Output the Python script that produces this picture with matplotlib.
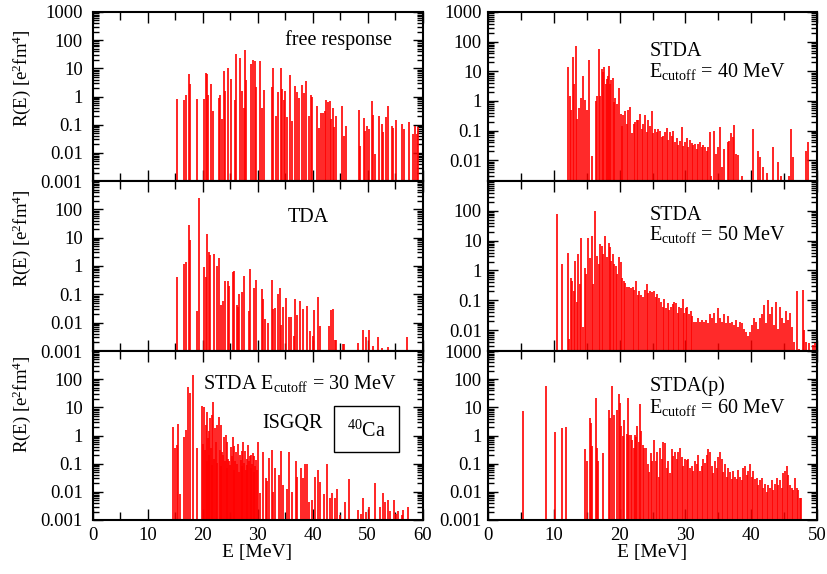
import matplotlib
matplotlib.use('Agg')
import numpy as np
import matplotlib.pyplot as plt
from matplotlib.ticker import FixedLocator, LogLocator, MultipleLocator, NullFormatter, FuncFormatter
from matplotlib.patches import Rectangle

# ---- strength functions R(E) [e^2 fm^4] vs E [MeV] ----

free_E = [15.31, 16.7, 17.0, 17.49, 17.79, 19.06, 20.34, 20.58, 20.88, 21.07,
          21.49, 21.97, 22.94, 23.19, 23.55, 23.91, 24.16, 24.58, 25.19, 25.91,
          26.1, 26.82, 27.13, 27.49, 27.67, 27.97, 28.88, 29.13, 29.49, 29.73,
          30.46, 30.82, 31.19, 32.58, 32.76, 33.31, 33.79, 34.22, 34.46, 34.76,
          35.07, 35.43, 35.91, 36.28, 36.88, 37.13, 37.55, 38.16, 38.4, 38.82,
          39.43, 39.73, 39.91, 40.88, 41.25, 41.49, 41.97, 42.28, 42.46, 42.82,
          43.13, 43.43, 43.67, 43.97, 44.28, 45.43, 45.73, 46.1, 48.4, 48.64,
          49.37, 49.61, 49.97, 50.34, 50.76, 51.07, 51.37, 52.03, 52.64, 52.88,
          53.37, 53.67, 54.4, 54.7, 55.19, 56.22, 56.58, 57.61, 58.34, 58.7,
          58.94, 59.25]
free_R = [0.8, 0.75, 1.1, 6.1, 2.8, 0.8, 0.8, 7, 6.5, 1.1,
          2.8, 0.3, 0.85, 1.15, 0.16, 7.8, 1.6, 10.5, 4.3, 0.75,
          31, 24, 1.6, 0.4, 44, 3.8, 14, 20, 18, 2.2,
          18, 0.4, 1.7, 2.2, 10, 0.2, 1.5, 10, 1.8, 0.75,
          1.6, 0.18, 5.6, 0.14, 2.4, 1.4, 0.85, 2.6, 1.3, 3.6,
          0.2, 1.1, 0.95, 0.45, 0.075, 0.27, 0.27, 0.3, 0.75, 0.65,
          0.7, 0.16, 0.4, 0.08, 0.2, 0.46, 0.04, 0.09, 0.33, 0.017,
          0.17, 0.06, 0.09, 0.07, 0.7, 0.22, 0.009, 0.21, 0.11, 0.055,
          0.18, 0.46, 0.09, 0.075, 0.15, 0.11, 0.07, 0.12, 0.045, 0.09,
          0.045, 0.08]

tda_E = [15.31, 16.64, 16.94, 17.49, 17.73, 18.94, 19.31, 20.28, 20.64, 20.82,
         21.13, 21.43, 22.1, 22.64, 22.94, 23.31, 23.67, 24.1, 24.7, 24.88,
         25.49, 25.79, 26.22, 26.46, 26.7, 27.13, 27.49, 28.4, 28.64, 29.43,
         29.73, 30.76, 31.0, 31.37, 31.97, 32.58, 32.88, 33.19, 33.67, 34.04,
         34.34, 34.7, 35.13, 35.67, 36.03, 36.64, 36.82, 37.25, 37.73, 38.22,
         38.94, 39.55, 40.04, 40.34, 40.94, 41.37, 43.07, 43.43, 43.79, 44.1,
         44.28, 45.61, 45.79, 48.22, 49.13, 49.73, 50.34, 50.94, 51.97, 52.58,
         53.67, 57.25]
tda_R = [0.42, 1.15, 1.4, 28, 8.3, 0.026, 245, 0.9, 0.4, 14,
         3.2, 2.5, 2.7, 1.0, 1.9, 0.042, 0.058, 0.3, 0.3, 0.2,
         0.63, 0.68, 0.042, 0.036, 0.1, 0.12, 0.44, 0.025, 0.8, 0.17,
         0.33, 0.16, 0.066, 0.014, 0.01, 0.32, 0.03, 0.032, 0.1, 0.17,
         0.008, 0.035, 0.075, 0.016, 0.016, 0.0035, 0.07, 0.019, 0.058, 0.03,
         0.04, 0.005, 0.0035, 0.029, 0.08, 0.0075, 0.0075, 0.029, 0.03, 0.0025,
         0.0025, 0.0018, 0.0018, 0.0019, 0.0056, 0.003, 0.0056, 0.0015, 0.003, 0.0013,
         0.0014, 0.003]

stda30_E = [14.7, 15.0, 15.31, 15.61, 15.91, 16.64, 17.0, 17.43, 17.73, 18.22,
            19.0, 19.97, 20.34, 20.64, 20.88, 21.13, 21.37, 21.67, 21.97, 22.28,
            22.58, 22.94, 23.31, 23.61, 23.91, 24.22, 24.52, 24.88, 25.13, 25.49,
            25.79, 26.1, 26.46, 26.82, 27.13, 27.37, 27.73, 28.04, 28.28, 28.64,
            28.88, 29.13, 29.43, 29.73, 30.04, 30.46, 31.07, 31.49, 31.79, 32.1,
            32.58, 32.88, 33.25, 33.85, 34.28, 34.7, 35.31, 35.79, 36.22, 37.0,
            37.25, 37.85, 38.22, 38.7, 39.07, 39.43, 39.97, 40.46, 41.07, 41.37,
            42.16, 42.7, 43.13, 43.55, 44.04, 44.4, 45.0, 45.91, 46.58, 48.22,
            48.76, 49.25, 49.73, 50.34, 51.43, 52.28, 52.76, 53.19, 53.67, 54.1,
            54.82, 55.19, 55.61, 56.22, 56.52, 57.43,
            20.1, 20.5, 20.76, 21.0, 21.25, 21.5, 21.8, 22.1, 22.4, 22.7,
            23.1, 23.45, 23.75, 24.05, 24.37, 24.7, 25.0, 25.3, 25.65, 25.95,
            26.3, 26.65, 26.98, 27.25, 27.55, 27.9, 28.15, 28.45, 28.75, 29.0,
            29.28, 29.58, 29.88]
stda30_R = [1.95, 0.37, 0.46, 2.6, 0.0085, 0.9, 1.6, 54, 32, 140,
            0.35, 11, 10, 2.4, 7, 1.4, 4.3, 5.3, 15, 1.8,
            2.4, 4.6, 2.4, 0.27, 0.9, 1.05, 0.6, 0.12, 0.4, 0.9,
            0.44, 0.27, 0.48, 0.2, 0.28, 0.6, 0.28, 0.15, 0.46, 0.19,
            0.2, 0.24, 0.18, 0.14, 0.6, 0.009, 0.27, 0.03, 0.024, 0.16,
            0.3, 0.01, 0.07, 0.04, 0.28, 0.017, 0.013, 0.27, 0.01, 0.12,
            0.035, 0.07, 0.03, 0.1, 0.1, 0.0045, 0.005, 0.033, 0.06, 0.023,
            0.0085, 0.1, 0.006, 0.009, 0.006, 0.013, 0.0015, 0.0045, 0.028, 0.0023,
            0.0017, 0.006, 0.0019, 0.003, 0.02, 0.003, 0.009, 0.0045, 0.005, 0.0021,
            0.0051, 0.0017, 0.0021, 0.0015, 0.0023, 0.003,
            0.5, 0.3, 0.12, 0.8, 0.2, 0.35, 0.09, 0.15, 0.6, 0.11,
            0.3, 0.08, 0.2, 0.12, 0.07, 0.15, 0.09, 0.18, 0.06, 0.12,
            0.1, 0.05, 0.14, 0.08, 0.11, 0.06, 0.09, 0.12, 0.07, 0.1,
            0.05, 0.08, 0.06]

stda40_E = [12.21, 12.47, 12.67, 12.87, 13.07, 13.33, 13.58, 13.83, 14.09, 14.49,
            14.75, 15.0, 15.3, 15.76, 16.42, 16.62, 16.87, 17.08, 17.28, 17.53,
            17.68, 17.89, 18.04, 18.19, 18.39, 18.55, 18.75, 18.95, 19.15, 19.36,
            19.66, 19.91, 20.17, 20.37, 20.57, 20.82, 21.08, 21.33, 21.58, 21.84,
            22.19, 22.4, 22.6, 22.85, 23.1, 23.41, 23.61, 23.91, 24.12, 24.37,
            24.62, 24.88, 25.13, 25.38, 25.64, 25.89, 26.14, 26.4, 26.65, 26.9,
            27.16, 27.41, 27.66, 27.92, 28.17, 28.42, 28.68, 28.93, 29.18, 29.44,
            29.69, 29.94, 30.2, 30.45, 30.7, 30.96, 31.21, 31.46, 31.72, 31.97,
            32.22, 32.48, 32.73, 32.98, 33.24, 33.49, 33.74, 33.95, 34.35, 34.65,
            34.96, 35.26, 35.62, 35.87, 36.43, 36.68, 36.93, 37.19, 37.39, 37.64,
            38.05, 38.55, 40.23, 41.09, 41.34, 41.85, 42.36, 43.27, 44.13, 44.48,
            45.8, 46.05, 46.41, 48.33, 48.59]
stda40_R = [14, 1.5, 0.5, 30, 3.8, 70, 0.25, 0.6, 1.3, 7,
            1.1, 0.48, 25, 0.014, 1.0, 1.5, 55, 1.5, 12, 9.5,
            14, 3.8, 5.5, 7, 15, 3.8, 5, 6, 0.9, 1.3,
            0.8, 2.7, 0.37, 0.14, 0.33, 0.45, 0.17, 0.5, 0.65, 0.08,
            0.17, 0.2, 0.23, 0.22, 0.37, 0.11, 0.17, 0.33, 0.09, 0.22,
            0.14, 0.47, 0.08, 0.11, 0.09, 0.11, 0.095, 0.06, 0.065, 0.09,
            0.12, 0.05, 0.09, 0.065, 0.1, 0.04, 0.055, 0.033, 0.045, 0.13,
            0.03, 0.04, 0.055, 0.027, 0.05, 0.038, 0.033, 0.036, 0.024, 0.036,
            0.04, 0.027, 0.033, 0.027, 0.02, 0.027, 0.09, 0.003, 0.1, 0.016,
            0.027, 0.13, 0.006, 0.024, 0.04, 0.045, 0.08, 0.06, 0.15, 0.016,
            0.015, 0.003, 0.11, 0.02, 0.013, 0.006, 0.0038, 0.027, 0.009, 0.003,
            0.003, 0.11, 0.013, 0.02, 0.04]

stda50_E = [10.49, 11.25, 12.16, 12.36, 12.57, 12.77, 13.02, 13.28, 13.48, 13.73,
            13.99, 14.19, 14.44, 14.7, 14.9, 15.25, 15.5, 15.76, 16.01, 16.32,
            16.52, 16.82, 17.03, 17.28, 17.53, 17.79, 18.04, 18.34, 18.55, 18.75,
            18.95, 19.15, 19.41, 19.66, 19.96, 20.17, 20.37, 20.62, 20.87, 21.18,
            21.48, 21.74, 21.99, 22.24, 22.5, 22.75, 23.0, 23.26, 23.61, 23.86,
            24.12, 24.37, 24.62, 24.88, 25.23, 25.49, 25.74, 26.04, 26.25, 26.55,
            26.8, 27.06, 27.31, 27.56, 27.82, 28.07, 28.32, 28.58, 28.83, 29.08,
            29.34, 29.59, 29.79, 30.1, 30.3, 30.5, 30.8, 31.0, 31.3, 31.6,
            31.9, 32.2, 32.5, 32.8, 33.1, 33.4, 33.74, 34.05, 34.35, 34.65,
            34.96, 35.26, 35.57, 35.87, 36.17, 36.48, 36.78, 37.09, 37.39, 37.7,
            38.0, 38.3, 38.6, 38.9, 39.2, 39.5, 39.8, 40.1, 40.4, 40.7,
            41.0, 41.3, 41.65, 41.95, 42.25, 42.56, 42.86, 43.2, 43.5, 43.8,
            44.1, 44.4, 44.7, 45.0, 45.3, 45.6, 45.9, 46.2, 46.5, 46.9,
            47.2, 47.8, 48.1, 48.4, 48.8, 49.4, 49.7, 49.95]
stda50_R = [79, 1.6, 4, 0.0052, 0.57, 0.44, 0.2, 2.1, 0.09, 3.5,
            0.34, 12, 0.013, 1.2, 0.75, 12, 2.7, 14, 0.34, 97,
            3, 1.6, 7.6, 6.7, 3.5, 14, 2.8, 8.5, 6.2, 2.1,
            3.5, 1.6, 1.4, 0.75, 2.8, 2, 0.57, 0.44, 0.39, 0.27,
            0.29, 0.26, 0.29, 0.23, 0.44, 0.15, 0.2, 0.15, 0.13, 0.23,
            0.34, 0.17, 0.2, 0.19, 0.21, 0.13, 0.16, 0.12, 0.09, 0.06,
            0.11, 0.055, 0.08, 0.048, 0.06, 0.074, 0.09, 0.08, 0.037, 0.06,
            0.055, 0.11, 0.037, 0.055, 0.06, 0.034, 0.043, 0.029, 0.019, 0.019,
            0.025, 0.019, 0.022, 0.019, 0.022, 0.017, 0.034, 0.025, 0.037, 0.017,
            0.055, 0.025, 0.019, 0.034, 0.017, 0.029, 0.017, 0.019, 0.015, 0.022,
            0.013, 0.019, 0.017, 0.011, 0.0086, 0.0066, 0.0086, 0.015, 0.025, 0.019,
            0.011, 0.025, 0.034, 0.07, 0.017, 0.1, 0.034, 0.06, 0.015, 0.09,
            0.011, 0.06, 0.025, 0.017, 0.043, 0.022, 0.037, 0.013, 0.004, 0.2,
            0.0024, 0.23, 0.01, 0.004, 0.0036, 0.0033, 0.0036, 0.016]

stdap_E = [5.27, 8.82, 10.14, 11.25, 11.8, 14.75, 15.0, 15.5, 15.66, 15.81,
           16.37, 16.62, 16.77, 17.53, 18.34, 18.55, 18.85, 19.1, 19.66, 19.86,
           20.01, 20.27, 20.47, 20.67, 21.08, 21.28, 21.48, 21.69, 21.89, 22.14,
           22.35, 22.55, 22.7, 22.9, 23.1, 23.31, 23.51, 23.76, 24.02, 24.27,
           24.52, 24.73, 24.98, 25.23, 25.49, 25.74, 25.94, 26.14, 26.4, 26.65,
           26.9, 27.16, 27.41, 27.66, 27.92, 28.17, 28.42, 28.68, 28.93, 29.18,
           29.44, 29.69, 29.94, 30.2, 30.45, 30.7, 30.96, 31.21, 31.46, 31.72,
           31.97, 32.22, 32.48, 32.73, 32.98, 33.24, 33.49, 33.74, 34.0, 34.25,
           34.5, 34.8, 35.0, 35.26, 35.5, 35.77, 36.0, 36.28, 36.53, 36.78,
           37.04, 37.29, 37.54, 37.8, 38.05, 38.3, 38.55, 38.8, 39.06, 39.32,
           39.57, 39.82, 40.07, 40.33, 40.58, 40.84, 41.09, 41.34, 41.6, 41.85,
           42.1, 42.36, 42.6, 42.86, 43.1, 43.37, 43.62, 43.87, 44.13, 44.38,
           44.63, 44.89, 45.14, 45.4, 45.65, 45.9, 46.16, 46.41, 46.66, 46.9,
           47.17, 47.42, 47.57]
stdap_R = [7.6, 57, 1.35, 1.8, 1.95, 0.32, 0.12, 4.3, 2.8, 0.42,
           21, 0.35, 0.12, 0.24, 8, 4.2, 55, 5.4, 8, 29,
           14, 2.2, 0.95, 3.6, 1.1, 22, 1.05, 1.05, 0.7, 0.37,
           1.05, 0.9, 2.2, 0.6, 13, 1.4, 0.47, 0.37, 0.37, 0.1,
           0.05, 0.24, 0.12, 0.7, 0.12, 0.27, 0.035, 0.37, 0.15, 0.6,
           0.55, 0.07, 0.12, 0.045, 0.32, 0.18, 0.27, 0.15, 0.27, 0.37,
           0.17, 0.08, 0.15, 0.13, 0.15, 0.07, 0.08, 0.055, 0.12, 0.1,
           0.21, 0.055, 0.08, 0.15, 0.11, 0.21, 0.32, 0.27, 0.08, 0.045,
           0.12, 0.07, 0.17, 0.27, 0.15, 0.05, 0.1, 0.035, 0.07, 0.05,
           0.028, 0.055, 0.035, 0.028, 0.06, 0.035, 0.026, 0.07, 0.08, 0.04,
           0.055, 0.1, 0.035, 0.055, 0.028, 0.03, 0.018, 0.026, 0.03, 0.014,
           0.019, 0.01, 0.018, 0.014, 0.026, 0.012, 0.019, 0.03, 0.018, 0.026,
           0.014, 0.045, 0.055, 0.08, 0.04, 0.018, 0.014, 0.012, 0.03, 0.014,
           0.012, 0.006, 0.0058]

decades = [0.001, 0.01, 0.1, 1, 10, 100, 1000]

plt.rcParams['font.family'] = 'Liberation Serif'
plt.rcParams['mathtext.fontset'] = 'custom'
plt.rcParams['mathtext.rm'] = 'Liberation Serif'
plt.rcParams['mathtext.it'] = 'Liberation Serif:italic'
plt.rcParams['mathtext.bf'] = 'Liberation Serif:bold'

fig = plt.figure(figsize=(8.27, 5.74), dpi=100)

lx, lw_ = 92.5 / 827, 330 / 827
rx, rw_ = 488 / 827, 329 / 827
rows = [(1 - 181 / 574, 169 / 574), (1 - 351 / 574, 170 / 574), (1 - 520 / 574, 169 / 574)]


def panel(x0, w, row, E, R, xmax, ylo, yticks, bottom_labels, pad):
    y0, h = rows[row]
    ax = fig.add_axes([x0, y0, w, h])
    ax.set_yscale('log')
    ax.vlines(E, 1e-5, R, colors='#ff0000', linewidth=1.2)
    ax.set_xlim(0, xmax)
    ax.set_ylim(ylo, 1000)
    ax.yaxis.set_major_locator(FixedLocator(yticks))
    ax.yaxis.set_major_formatter(FuncFormatter(lambda v, p: '%g' % v))
    ax.yaxis.set_minor_locator(LogLocator(base=10, subs=np.arange(2, 10), numticks=20))
    ax.yaxis.set_minor_formatter(NullFormatter())
    ax.xaxis.set_major_locator(MultipleLocator(10))
    ax.xaxis.set_minor_locator(MultipleLocator(5))
    ax.tick_params(which='both', direction='in', top=True, right=True, width=1.0,
                   labelsize=13.5, labelbottom=bottom_labels)
    ax.tick_params(axis='y', which='major', length=7, pad=pad)
    ax.tick_params(axis='y', which='minor', length=4)
    ax.tick_params(axis='x', which='major', length=8, pad=5)
    ax.tick_params(axis='x', which='minor', length=6)
    for s in ax.spines.values():
        s.set_linewidth(1.5)
    return ax


ax1 = panel(lx, lw_, 0, free_E, free_R, 60, 0.001, decades, False, 7)
ax2 = panel(lx, lw_, 1, tda_E, tda_R, 60, 0.001, decades[:-1], False, 7)
ax3 = panel(lx, lw_, 2, stda30_E, stda30_R, 60, 0.001, decades[:-1], True, 7)
ax4 = panel(rx, rw_, 0, stda40_E, stda40_R, 50, 0.002, decades[1:], False, 4.5)
ax5 = panel(rx, rw_, 1, stda50_E, stda50_R, 50, 0.002, decades[1:-1], False, 4.5)
ax6 = panel(rx, rw_, 2, stdap_E, stdap_R, 50, 0.001, decades, True, 4.5)

fs = 14.5
ax1.text(0.744, 0.805, 'free response', transform=ax1.transAxes, ha='center', va='baseline', fontsize=fs)
ax2.text(0.655, 0.76, 'TDA', transform=ax2.transAxes, ha='center', va='baseline', fontsize=fs)
ax3.text(0.335, 0.775, r'STDA E$_{\mathrm{cutoff}}$ = 30 MeV', transform=ax3.transAxes,
         ha='left', va='baseline', fontsize=fs)
ax3.text(0.605, 0.544, 'ISGQR', transform=ax3.transAxes, ha='center', va='baseline', fontsize=fs)
ax3.add_patch(Rectangle((0.732, 0.402), 0.197, 0.273, transform=ax3.transAxes,
                        fill=False, edgecolor='black', linewidth=1.0))
ax3.text(0.83, 0.49, r'$^{40}$Ca', transform=ax3.transAxes, ha='center', va='baseline', fontsize=fs)

for ax, top, e_y, txt, cut in [(ax4, 0.74, 0.615, 'STDA', '40'),
                               (ax5, 0.77, 0.653, 'STDA', '50'),
                               (ax6, 0.765, 0.635, 'STDA(p)', '60')]:
    ax.text(0.49, top, txt, transform=ax.transAxes, ha='left', va='baseline', fontsize=fs)
    ax.text(0.49, e_y, r'E$_{\mathrm{cutoff}}$ = %s MeV' % cut, transform=ax.transAxes,
            ha='left', va='baseline', fontsize=fs)

ylab = r'R(E) [e$^{2}$fm$^{4}$]'
for yc in [1 - 78 / 574, 1 - 238 / 574, 1 - 404 / 574]:
    fig.text(22 / 827, yc, ylab, rotation=90, ha='center', va='center', fontsize=13.5)

fig.text(lx + lw_ / 2, 1 - 553 / 574, 'E [MeV]', ha='center', va='center', fontsize=14)
fig.text(rx + rw_ / 2, 1 - 553 / 574, 'E [MeV]', ha='center', va='center', fontsize=14)

fig.savefig('out.png', dpi=100)
